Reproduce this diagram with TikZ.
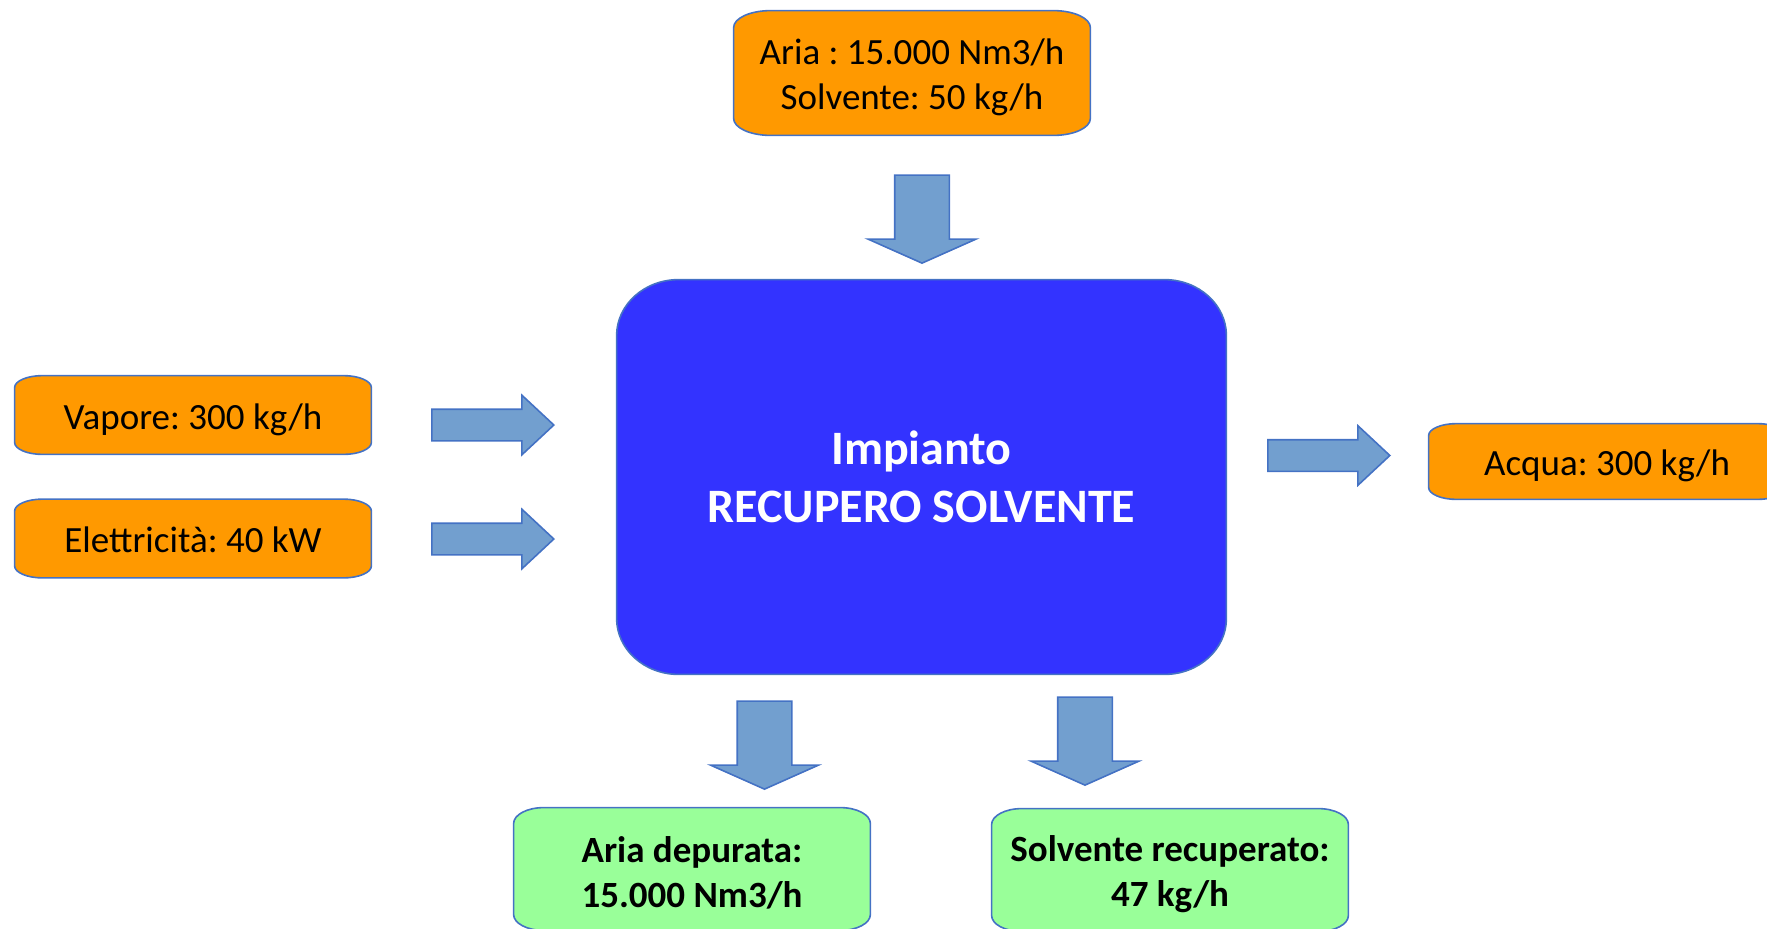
\documentclass[tikz,border=0pt]{standalone}
\usepackage{fontspec}
\setmainfont{Carlito}
\usetikzlibrary{shapes.arrows,backgrounds,positioning}

\definecolor{boxorange}{HTML}{FF9900}
\definecolor{boxgreen}{HTML}{99FF99}
\definecolor{plantblue}{HTML}{3333FF}
\definecolor{edgeblue}{HTML}{4472C4}
\definecolor{arrowblue}{HTML}{729FCF}

% strut that pushes two-line texts a little down
\newcommand{\topstrut}{\rule{0pt}{17pt}}

% box with elliptic corners, drawn behind a node: node, fill, x radius, y radius
\newcommand{\ebox}[4]{%
  \begin{pgfonlayer}{background}
  \draw[edgeblue, line width=0.8pt, fill=#2]
    ([xshift=#3]#1.north west) -- ([xshift=-#3]#1.north east)
    arc[start angle=90, end angle=0, x radius=#3, y radius=#4]
    -- ([yshift=#4]#1.south east)
    arc[start angle=0, end angle=-90, x radius=#3, y radius=#4]
    -- ([xshift=#3]#1.south west)
    arc[start angle=270, end angle=180, x radius=#3, y radius=#4]
    -- ([yshift=-#4]#1.north west)
    arc[start angle=180, end angle=90, x radius=#3, y radius=#4]
    -- cycle;
  \end{pgfonlayer}}

\begin{document}
\frenchspacing
\begin{tikzpicture}[x=0.5pt, y=-0.5pt,
    flow/.style={inner sep=0pt, align=center, minimum width=178pt,
      font=\fontsize{18.5}{22.5}\selectfont},
    oneline/.style={flow, text height=16pt, text depth=2pt},
    outflow/.style={flow, font=\fontsize{18.5}{22.5}\selectfont\bfseries},
    plantbox/.style={inner sep=0pt, align=center, minimum width=304.5pt,
      minimum height=197pt, text=white,
      font=\fontsize{24}{29}\selectfont\bfseries},
    side/.style={single arrow, draw=edgeblue, fill=arrowblue, line width=0.8pt,
      inner xsep=0pt, inner ysep=7.5pt, text height=0pt, text depth=0pt,
      minimum height=61pt, single arrow head extend=7pt,
      single arrow tip angle=86},
    down/.style={single arrow, draw=edgeblue, fill=arrowblue, line width=0.8pt,
      inner xsep=0pt, inner ysep=13.25pt, text height=0pt, text depth=0pt,
      minimum height=44pt, single arrow head extend=13.25pt,
      single arrow tip angle=132, rotate=-90}]
  \clip (0,0) rectangle (1767,928);
  \useasboundingbox (0,0) rectangle (1767,928);

  \node[plantbox] (plant) at (921.5,477) {Impianto\\RECUPERO SOLVENTE};
  \node[flow, minimum height=62pt] (feed) at (912,73) {\topstrut Aria : 15.000 Nm3/h\\Solvente: 50 kg/h};
  \node[oneline, minimum height=39pt] (steam) at (193,415) {Vapore: 300 kg/h};
  \node[oneline, minimum height=39pt] (power) at (193,538.5) {Elettricità: 40 kW};
  \node[oneline, minimum height=37.5pt] (water) at (1607,461.5) {Acqua: 300 kg/h};
  \node[outflow, minimum height=61pt] (cleanair) at (692,869) {\topstrut Aria depurata:\\15.000 Nm3/h};
  \node[outflow, minimum height=61pt] (solvent) at (1170,870) {\topstrut Solvente recuperato:\\47 kg/h};

  \ebox{plant}{plantblue}{31pt}{28pt}
  \ebox{feed}{boxorange}{18.5pt}{8.5pt}
  \ebox{steam}{boxorange}{14pt}{6pt}
  \ebox{power}{boxorange}{14pt}{6pt}
  \ebox{water}{boxorange}{14pt}{6pt}
  \ebox{cleanair}{boxgreen}{15pt}{8pt}
  \ebox{solvent}{boxgreen}{15pt}{8pt}

  \node[down, anchor=tip] (aFeed) at (922,264) {};
  \node[side, anchor=tip] (aSteam) at (555,425) {};
  \node[side, anchor=tip] (aPower) at (555,539) {};
  \node[side, anchor=tip] (aWater) at (1391,455.5) {};
  \node[down, anchor=tip] (aAir) at (764.5,790) {};
  \node[down, anchor=tip] (aSolv) at (1085,786) {};
\end{tikzpicture}
\end{document}
